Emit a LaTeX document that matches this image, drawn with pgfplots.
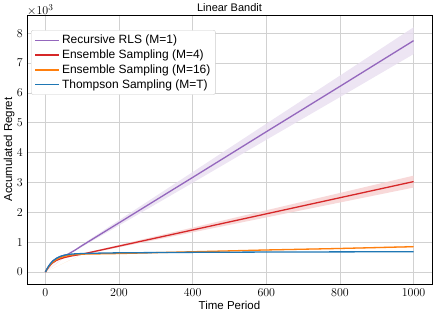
\documentclass[border=0pt]{standalone}
\usepackage{fontspec}
\setmainfont{Liberation Sans}
\usepackage{pgfplots}
\pgfplotsset{compat=1.18}
\usepgfplotslibrary{fillbetween}
\definecolor{cpur}{HTML}{9467BD}
\definecolor{cred}{HTML}{D62728}
\definecolor{cora}{HTML}{FF7F0E}
\definecolor{cblu}{HTML}{1F77B4}
\begin{document}
\begin{tikzpicture}
\begin{axis}[
  scale only axis, width=405pt, height=269pt,
  xmin=-50, xmax=1050, ymin=-0.40, ymax=8.61,
  xtick={0,200,400,600,800,1000},
  ytick={0,1,2,3,4,5,6,7,8},
  /pgf/number format/1000 sep={},
  grid=major, major grid style={color=black!18, line width=0.8pt},
  major tick length=0pt,
  axis line style={line width=0.9pt},
  tick label style={font=\fontsize{13}{13}\selectfont},
  xticklabel style={anchor=north, inner sep=0pt, yshift=-5pt},
  yticklabel style={anchor=east, inner sep=0pt, xshift=-4pt},
  xlabel={Time Period}, ylabel={Accumulated Regret},
  label style={font=\fontsize{11.5}{12}\selectfont},
  xlabel style={at={(axis description cs:0.5,-0.096)}, anchor=base, inner sep=0pt},
  ylabel style={at={(axis description cs:-0.044,0.5)}, anchor=center, inner sep=0pt},
  every axis title shift=0pt,
  title={Linear Bandit},
  title style={font=\fontsize{11}{12}\selectfont, at={(axis description cs:0.5,1)}, anchor=base, inner sep=0pt, yshift=3.7pt},
  legend style={font=\fontsize{12}{13}\selectfont, draw=black!20, rounded corners=2pt, at={(axis description cs:0.01,0.944)}, anchor=north west, row sep=0.5pt, inner sep=3pt},
  legend cell align=left,
  legend image code/.code={\draw[#1, line width=1.6pt] (0cm,0cm) -- (0.85cm,0cm);},
]
% bands
\addplot[name path=pu, draw=none, forget plot] coordinates {(0,0)(50,0.56)(60,0.59)(100,0.93)(200,1.74)(400,3.35)(600,4.97)(800,6.58)(1000,8.20)};
\addplot[name path=pl, draw=none, forget plot] coordinates {(0,0)(50,0.56)(60,0.59)(100,0.85)(200,1.56)(400,2.99)(600,4.43)(800,5.86)(1000,7.30)};
\addplot[cpur!22, opacity=0.8, forget plot] fill between[of=pu and pl];
\addplot[name path=ru, draw=none, forget plot] coordinates {(0,0)(50,0.49)(100,0.62)(200,0.91)(400,1.49)(600,2.07)(800,2.65)(1000,3.23)};
\addplot[name path=rl, draw=none, forget plot] coordinates {(0,0)(50,0.47)(100,0.58)(200,0.83)(400,1.33)(600,1.83)(800,2.33)(1000,2.83)};
\addplot[cred!22, opacity=0.8, forget plot] fill between[of=ru and rl];
\addplot[name path=ou, draw=none, forget plot] coordinates {(0,0)(100,0.605)(200,0.63)(400,0.69)(600,0.75)(800,0.81)(1000,0.88)};
\addplot[name path=ol, draw=none, forget plot] coordinates {(0,0)(100,0.595)(200,0.61)(400,0.67)(600,0.72)(800,0.77)(1000,0.82)};
\addplot[cora!25, opacity=0.8, forget plot] fill between[of=ou and ol];
% lines
\addplot[cpur, line width=1.3pt] coordinates {(0,0)(5,0.12)(10,0.22)(15,0.30)(20,0.37)(30,0.46)(40,0.52)(50,0.56)(60,0.59)(70,0.66)(80,0.73)(100,0.89)(200,1.65)(400,3.17)(600,4.70)(800,6.22)(1000,7.75)};
\addlegendentry{Recursive RLS (M=1)}
\addplot[cred, line width=1.3pt] coordinates {(0,0)(5,0.10)(10,0.18)(15,0.25)(20,0.31)(30,0.39)(40,0.44)(50,0.48)(60,0.51)(70,0.54)(80,0.56)(100,0.60)(150,0.735)(200,0.87)(400,1.41)(600,1.95)(800,2.49)(1000,3.03)};
\addlegendentry{Ensemble Sampling (M=4)}
\addplot[cora, line width=1.3pt] coordinates {(0,0)(5,0.11)(10,0.20)(15,0.27)(20,0.33)(30,0.42)(40,0.48)(50,0.52)(60,0.55)(70,0.57)(80,0.585)(100,0.60)(150,0.61)(200,0.62)(400,0.68)(600,0.74)(800,0.79)(1000,0.85)};
\addlegendentry{Ensemble Sampling (M=16)}
\addplot[cblu, line width=1.3pt] coordinates {(0,0)(5,0.12)(10,0.22)(15,0.30)(20,0.37)(30,0.46)(40,0.52)(50,0.56)(60,0.585)(70,0.60)(80,0.61)(100,0.62)(150,0.635)(200,0.645)(400,0.66)(600,0.67)(800,0.676)(1000,0.68)};
\addlegendentry{Thompson Sampling (M=T)}
\end{axis}
\node[anchor=base west, inner sep=0pt, font=\fontsize{13}{13}\selectfont, yshift=0.5pt] at (current axis.north west) {$\times10^3$};
\pgfresetboundingbox
\useasboundingbox ([shift={(-27pt,-34pt)}]current axis.south west) rectangle ([shift={(4pt,15pt)}]current axis.north east);
\end{tikzpicture}
\end{document}
